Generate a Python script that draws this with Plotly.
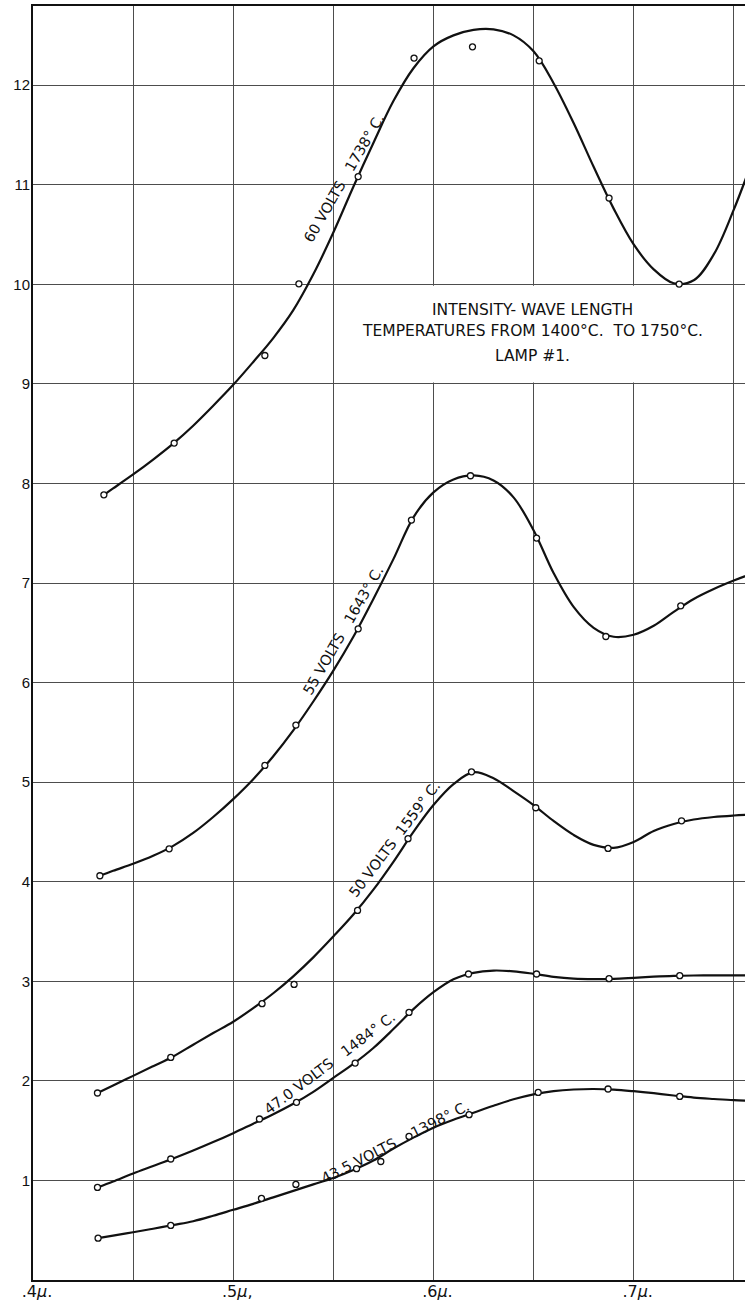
import plotly.graph_objects as go

# ---------------- axis ticks ----------------
x_grid_vals = [0.40, 0.45, 0.50, 0.55, 0.60, 0.65, 0.70, 0.75]
x_grid_text = [".4<i>μ</i>.", "", ".5<i>μ</i>,", "", ".6<i>μ</i>.", "", ".7<i>μ</i>.", ""]
y_grid_vals = [1, 2, 3, 4, 5, 6, 7, 8, 9, 10, 11, 12]
y_grid_text = ["1", "2", "3", "4", "5", "6", "7", "8", "9", "10", "11", "12"]

curve_x_60 = [0.4354, 0.44, 0.45, 0.46, 0.47, 0.48, 0.49, 0.50, 0.51, 0.52, 0.53, 0.54, 0.55,
              0.56, 0.57, 0.58, 0.59, 0.60, 0.61, 0.62, 0.63, 0.64, 0.65, 0.66, 0.67, 0.68,
              0.69, 0.70, 0.71, 0.72, 0.73, 0.74, 0.75, 0.76]

# ---------------- 60 volts, 1738 C ----------------
v60_pts_x = [0.4354, 0.4705, 0.5158, 0.5328, 0.5624, 0.5903, 0.6195, 0.6528, 0.6877, 0.7227]
v60_pts_y = [7.886, 8.405, 9.285, 10.005, 11.082, 12.272, 12.385, 12.244, 10.866, 10.002]
v60_curve_y = [7.886, 7.95, 8.09, 8.24, 8.40, 8.58, 8.78, 8.99, 9.22, 9.46, 9.74, 10.10, 10.52,
               10.98, 11.42, 11.84, 12.17, 12.39, 12.50, 12.555, 12.56, 12.50, 12.34, 12.02, 11.62, 11.18,
               10.76, 10.40, 10.15, 10.01, 10.04, 10.30, 10.75, 11.28]

# ---------------- 55 volts, 1643 C ----------------
v55_pts_x = [0.4334, 0.4680, 0.5158, 0.5313, 0.5624, 0.5890, 0.6185, 0.6515, 0.6861, 0.7235]
v55_pts_y = [4.06, 4.33, 5.168, 5.573, 6.54, 7.632, 8.077, 7.451, 6.463, 6.771]
v55_curve_x = [0.4334, 0.44, 0.45, 0.46, 0.47, 0.48, 0.49, 0.50, 0.51, 0.52, 0.53, 0.54, 0.55,
               0.56, 0.57, 0.58, 0.59, 0.60, 0.61, 0.62, 0.63, 0.64, 0.65, 0.66, 0.67, 0.68,
               0.69, 0.70, 0.71, 0.72, 0.73, 0.74, 0.75, 0.76]
v55_curve_y = [4.06, 4.11, 4.18, 4.26, 4.36, 4.49, 4.65, 4.83, 5.03, 5.26, 5.52, 5.81, 6.12,
               6.46, 6.84, 7.24, 7.66, 7.91, 8.04, 8.08, 8.03, 7.86, 7.53, 7.10, 6.76, 6.55,
               6.46, 6.48, 6.57, 6.71, 6.84, 6.94, 7.025, 7.10]

# ---------------- 50 volts, 1559 C ----------------
v50_pts_x = [0.4322, 0.4688, 0.5144, 0.5304, 0.5621, 0.5873, 0.6190, 0.6511, 0.6872, 0.7239]
v50_pts_y = [1.878, 2.235, 2.775, 2.969, 3.712, 4.432, 5.104, 4.743, 4.334, 4.612]
v50_curve_x = [0.4322, 0.44, 0.45, 0.46, 0.47, 0.48, 0.49, 0.50, 0.51, 0.52, 0.53, 0.54, 0.55,
               0.56, 0.57, 0.58, 0.59, 0.60, 0.61, 0.62, 0.63, 0.64, 0.65, 0.66, 0.67, 0.68,
               0.69, 0.70, 0.71, 0.72, 0.73, 0.74, 0.75, 0.76]
v50_curve_y = [1.878, 1.954, 2.05, 2.147, 2.245, 2.363, 2.48, 2.594, 2.73, 2.88, 3.05, 3.24, 3.45,
               3.67, 3.92, 4.20, 4.50, 4.77, 4.98, 5.10, 5.04, 4.91, 4.77, 4.61, 4.47, 4.37,
               4.34, 4.40, 4.51, 4.58, 4.625, 4.65, 4.665, 4.675]

# ---------------- 47.0 volts, 1484 C ----------------
v47_pts_x = [0.4322, 0.4688, 0.5131, 0.5316, 0.5609, 0.5878, 0.6175, 0.6515, 0.6877, 0.7230]
v47_pts_y = [0.93, 1.215, 1.617, 1.784, 2.179, 2.687, 3.073, 3.073, 3.026, 3.056]
v47_curve_x = v50_curve_x
v47_curve_y = [0.93, 0.99, 1.07, 1.145, 1.22, 1.30, 1.385, 1.475, 1.57, 1.665, 1.77, 1.89, 2.03,
               2.17, 2.33, 2.52, 2.72, 2.89, 3.02, 3.085, 3.108, 3.10, 3.075, 3.045, 3.027, 3.022,
               3.025, 3.035, 3.046, 3.054, 3.058, 3.06, 3.06, 3.059]

# ---------------- 43.5 volts, 1398 C ----------------
v43_pts_x = [0.4325, 0.4688, 0.5141, 0.5313, 0.5616, 0.5737, 0.5878, 0.6178, 0.6523, 0.6872, 0.7230]
v43_pts_y = [0.42, 0.548, 0.82, 0.96, 1.118, 1.19, 1.442, 1.66, 1.884, 1.918, 1.844]
v43_curve_x = [0.4325, 0.44, 0.45, 0.46, 0.47, 0.48, 0.49, 0.50, 0.51, 0.52, 0.53, 0.54, 0.55,
               0.56, 0.57, 0.58, 0.59, 0.60, 0.61, 0.62, 0.63, 0.64, 0.65, 0.66, 0.67, 0.68,
               0.69, 0.70, 0.71, 0.72, 0.73, 0.74, 0.75, 0.76]
v43_curve_y = [0.42, 0.445, 0.48, 0.515, 0.552, 0.59, 0.645, 0.705, 0.765, 0.83, 0.895, 0.96, 1.025,
               1.105, 1.20, 1.32, 1.43, 1.53, 1.61, 1.68, 1.75, 1.815, 1.865, 1.897, 1.913, 1.918,
               1.912, 1.896, 1.876, 1.853, 1.832, 1.818, 1.806, 1.80]

# curve labels: text, position (data), angle
NB = "\u00a0"
label_text = ["60 VOLTS" + NB * 3 + "1738° C.", "55 VOLTS" + NB * 3 + "1643° C.",
              "50 VOLTS" + NB * 2 + "1559° C.", "47.0 VOLTS" + NB * 3 + "1484° C.",
              "43.5 VOLTS" + NB * 4 + "1398° C."]
label_x = [0.5553, 0.5550, 0.5806, 0.5482, 0.5810]
label_y = [11.07, 6.53, 4.43, 2.18, 1.39]
label_angle = [-60, -60, -53, -37, -27]

title_lines = ["INTENSITY- WAVE LENGTH", "TEMPERATURES FROM 1400°C.  TO 1750°C.", "LAMP #1."]
title_y = [9.74, 9.526, 9.282]
title_x = 0.6494

series = [
    (curve_x_60, v60_curve_y, v60_pts_x, v60_pts_y),
    (v55_curve_x, v55_curve_y, v55_pts_x, v55_pts_y),
    (v50_curve_x, v50_curve_y, v50_pts_x, v50_pts_y),
    (v47_curve_x, v47_curve_y, v47_pts_x, v47_pts_y),
    (v43_curve_x, v43_curve_y, v43_pts_x, v43_pts_y),
]

FONT = "Liberation Sans, Arial, sans-serif"
FONT2 = "DejaVu Sans, sans-serif"

fig = go.Figure()
for cx, cy, px, py in series:
    fig.add_trace(go.Scatter(x=cx, y=cy, mode="lines",
                             line=dict(color="#111111", width=2.2, shape="spline", smoothing=1.0),
                             hoverinfo="skip", showlegend=False))
for cx, cy, px, py in series:
    fig.add_trace(go.Scatter(x=px, y=py, mode="markers",
                             marker=dict(symbol="circle", size=6, color="white",
                                         line=dict(color="#111111", width=1.3)),
                             showlegend=False))

# white panel behind the title block (covers the grid lines only)
fig.add_shape(type="rect", xref="x", yref="y", x0=0.5508, x1=0.7488, y0=9.015, y1=9.985,
              fillcolor="white", line=dict(width=0), layer="between")

for t, ty in zip(title_lines, title_y):
    fig.add_annotation(x=title_x, y=ty, xref="x", yref="y", text=t, showarrow=False,
                       font=dict(family=FONT2, size=15.5, color="#111111"))

for t, lx, ly, ang in zip(label_text, label_x, label_y, label_angle):
    fig.add_annotation(x=lx, y=ly, xref="x", yref="y", text=t, showarrow=False,
                       textangle=ang, font=dict(family=FONT2, size=14.5, color="#111111"))

fig.update_layout(
    width=745, height=1306,
    margin=dict(l=33, r=0, t=6, b=26),
    paper_bgcolor="white", plot_bgcolor="white",
    showlegend=False,
    xaxis=dict(range=[0.4, 0.7556], tickmode="array", tickvals=x_grid_vals, ticktext=x_grid_text,
               showgrid=True, gridcolor="#4d4d4d", gridwidth=1, zeroline=False,
               showline=True, linecolor="#111111", linewidth=2, mirror=True,
               ticks="", ticklabelshift=4, ticklabelstandoff=-4,
               tickfont=dict(family=FONT2, size=16, color="#111111")),
    yaxis=dict(range=[0, 12.795], tickmode="array", tickvals=y_grid_vals, ticktext=y_grid_text,
               showgrid=True, gridcolor="#4d4d4d", gridwidth=1, zeroline=False,
               showline=True, linecolor="#111111", linewidth=2,
               ticks="", ticklabelstandoff=-2,
               tickfont=dict(family=FONT, size=15, color="#111111")),
)

fig.write_html("out.html", config={"displayModeBar": False},
               post_script="document.body.style.margin='0';")
